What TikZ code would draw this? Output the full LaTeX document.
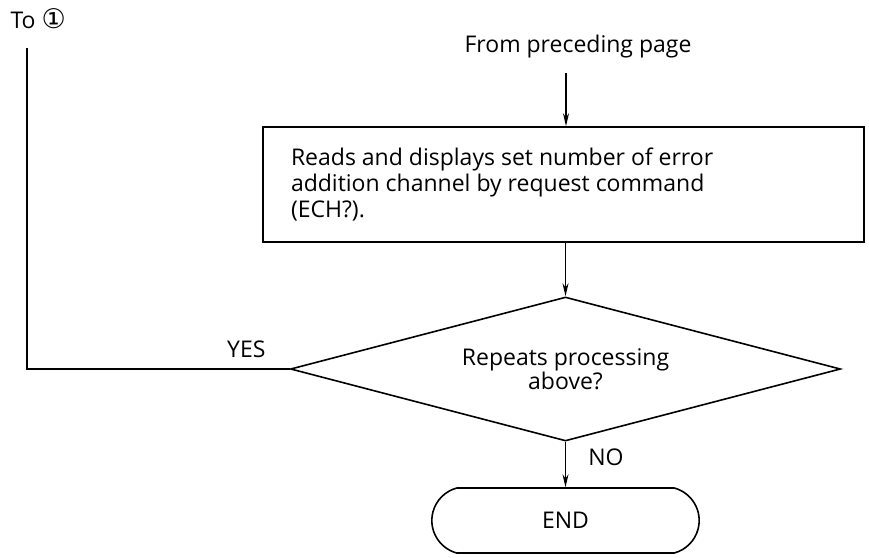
\documentclass[tikz,border=0pt]{standalone}
\usepackage{fontspec}
\setmainfont{Open Sans}
\newfontfamily\symfont{DejaVu Sans}
\usetikzlibrary{shapes.geometric,shapes.misc,arrows.meta}
\tikzset{
  flowline/.style={line width=1.6pt},
  arr/.style={line width=1.1pt,-{Stealth[length=13pt,width=6pt]}},
  procbox/.style={draw,line width=1.6pt,rectangle,minimum width=601,minimum height=115,inner sep=0},
  decision/.style={draw,line width=1.6pt,diamond,aspect=3.8,minimum width=550,minimum height=144,inner sep=0,align=center,font=\fontsize{23}{22}\selectfont},
  terminal/.style={draw,line width=1.6pt,rounded rectangle,rounded rectangle arc length=150,minimum width=274,minimum height=65}
}
\begin{document}
\begin{tikzpicture}[x=1pt,y=-1pt,font=\fontsize{23}{26}\selectfont]
  \useasboundingbox (0,0) rectangle (869,557);
  \node[anchor=west] (to) at (7,19) {To {\symfont\fontsize{27}{27}\selectfont ①}};
  \node (from) at (578,47) {From preceding page};
  \coordinate (fromend) at (566,73);
  \node[procbox] (proc) at (563.5,184.5) {\raisebox{4pt}{\begin{minipage}{545pt}Reads and displays set number of error\\addition channel by request command\\(ECH?).\end{minipage}}};
  \node[decision] (dec) at (565.5,369) {Repeats processing\\above?};
  \node[terminal] (stop) at (565.5,520.5) {END};
  \coordinate (back) at (27,48);
  \node[anchor=south east] (yes) at (269,361) {YES};
  \node (no) at (606,457) {NO};
  \draw[arr] (fromend) -- (proc.north -| fromend);
  \draw[arr] (proc.south -| dec.north) -- (dec.north);
  \draw[arr] (dec.south) -- (stop.north);
  \draw[flowline] (dec.west) -| (back);
\end{tikzpicture}
\end{document}
